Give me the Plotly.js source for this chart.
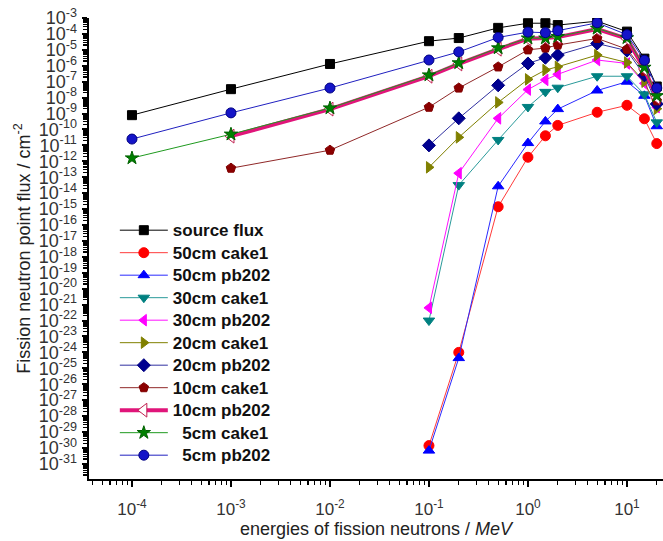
<!DOCTYPE html>
<html>
<head>
<meta charset="utf-8">
<script src="https://cdn.plot.ly/plotly-3.0.1.min.js"></script>
<style>
  html, body { margin: 0; padding: 0; background: #fff; }
  #chart { width: 663px; height: 541px; }
</style>
</head>
<body>
<div id="chart"></div>
<script>
// Neutron energies (MeV)
const energies = [1e-4, 1e-3, 1e-2, 0.1, 0.2, 0.5, 1, 1.5, 2, 5, 10, 15, 20];

// Fission neutron point flux (cm^-2)
const sourceFlux  = [7.9e-10, 3.4e-8, 1.3e-6, 3.5e-5, 5.5e-5, 2.4e-4, 4.7e-4, 4.7e-4, 3.6e-4, 6.3e-4, 1.4e-4, 2.8e-6, 5.0e-8];
const cake1_50cm  = [null, null, null, 1.4e-30, 1.0e-24, 1.4e-15, 1.8e-12, 4.0e-11, 1.8e-10, 1.2e-9, 3.3e-9, 4.7e-10, 1.3e-11];
const pb202_50cm  = [null, null, null, 6.8e-31, 4.4e-25, 2.7e-14, 1.4e-11, 3.2e-10, 1.9e-9, 2.8e-8, 1.0e-7, 1.3e-8, 1.6e-10];
const cake1_30cm  = [null, null, null, 1.0e-22, 3.2e-14, 2.2e-11, 2.6e-9, 2.3e-8, 4.2e-8, 2.2e-7, 2.2e-7, 1.6e-8, 2.8e-10];
const pb202_30cm  = [null, null, null, 6.3e-22, 1.8e-13, 5.0e-10, 3.2e-8, 1.3e-7, 2.9e-7, 2.3e-6, 1.4e-6, 7.9e-8, 2.5e-9];
const cake1_20cm  = [null, null, null, 4.2e-13, 3.2e-11, 5.0e-9, 1.4e-7, 5.4e-7, 8.7e-7, 4.7e-6, 1.6e-6, 1.0e-7, 2.0e-9];
const pb202_20cm  = [null, null, null, 1.0e-11, 5.0e-10, 5.9e-8, 1.4e-6, 3.2e-6, 4.7e-6, 2.5e-5, 8.9e-6, 2.5e-7, 4.0e-9];
const cake1_10cm  = [null, 3.7e-13, 5.0e-12, 2.5e-9, 4.0e-8, 8.5e-7, 1.0e-5, 1.3e-5, 2.0e-5, 5.2e-5, 1.1e-5, 4.5e-7, 6.3e-9];
const pb202_10cm  = [null, 3.8e-11, 1.9e-9, 2.2e-7, 1.3e-6, 1.1e-5, 5.0e-5, 5.6e-5, 6.3e-5, 2.0e-4, 5.0e-5, 6.3e-7, 1.0e-8];
const cake1_5cm   = [1.6e-12, 5.0e-11, 2.2e-9, 2.6e-7, 1.5e-6, 1.3e-5, 5.4e-5, 5.4e-5, 6.8e-5, 2.2e-4, 5.6e-5, 7.9e-7, 1.3e-8];
const pb202_5cm   = [2.5e-11, 1.1e-9, 4.0e-8, 2.3e-6, 7.4e-6, 6.0e-5, 1.3e-4, 1.2e-4, 1.6e-4, 5.0e-4, 8.9e-5, 2.2e-6, 4.0e-8];

const seriesNames = ['source flux', '50cm cake1', '50cm pb202', '30cm cake1', '30cm pb202',
  '20cm cake1', '20cm pb202', '10cm cake1', '10cm pb202', '\u20075cm cake1', '\u20075cm pb202'];
const seriesValues = [sourceFlux, cake1_50cm, pb202_50cm, cake1_30cm, pb202_30cm,
  cake1_20cm, pb202_20cm, cake1_10cm, pb202_10cm, cake1_5cm, pb202_5cm];

// Tick labels
const xTickExponents = [-4, -3, -2, -1, 0, 1];
const yTickExponents = [-3, -4, -5, -6, -7, -8, -9, -10, -11, -12, -13, -14, -15, -16, -17,
  -18, -19, -20, -21, -22, -23, -24, -25, -26, -27, -28, -29, -30, -31];

const styles = [
  {line: '#000000', lw: 1, sym: 'square',         mc: '#000000', ml: '#000000', size: 9},
  {line: '#ff3a3a', lw: 1, sym: 'circle',         mc: '#ff0000', ml: '#ff0000', size: 10},
  {line: '#2a2aff', lw: 1, sym: 'triangle-up',    mc: '#0000ff', ml: '#0000ff', size: 10},
  {line: '#2a9a9a', lw: 1, sym: 'triangle-down',  mc: '#008080', ml: '#008080', size: 10},
  {line: '#ff10ff', lw: 1, sym: 'triangle-left',  mc: '#ff00ff', ml: '#ff00ff', size: 10},
  {line: '#808000', lw: 1, sym: 'triangle-right', mc: '#808000', ml: '#808000', size: 10},
  {line: '#3030a0', lw: 1, sym: 'diamond',        mc: '#000090', ml: '#000080', size: 10},
  {line: '#902828', lw: 1, sym: 'pentagon',       mc: '#8b0000', ml: '#800000', size: 10},
  {line: '#e0157a', lw: 4, sym: 'triangle-left',  mc: '#ffffff', ml: '#c02050', size: 12},
  {line: '#1f9a1f', lw: 1, sym: 'star',           mc: '#008000', ml: '#006000', size: 10},
  {line: '#2020c0', lw: 1, sym: 'circle',         mc: '#1414c8', ml: '#000080', size: 10}
];

const traces = seriesNames.map((name, i) => ({
  type: 'scatter',
  mode: 'lines+markers',
  name: '<span style="font-size:17px">' + name + '</span>',
  x: energies,
  y: seriesValues[i],
  connectgaps: false,
  line: {color: styles[i].line, width: styles[i].lw},
  marker: {symbol: styles[i].sym, color: styles[i].mc, size: styles[i].size,
           line: {color: styles[i].ml, width: 1}}
}));

const layout = {
  width: 663,
  height: 541,
  margin: {l: 89, r: 0, t: 18, b: 62},
  paper_bgcolor: '#ffffff',
  plot_bgcolor: '#ffffff',
  font: {family: 'Arial, "Liberation Sans", sans-serif', color: '#222'},
  showlegend: true,
  legend: {
    x: 0.045, y: 0.575, xanchor: 'left', yanchor: 'top',
    bgcolor: 'rgba(0,0,0,0)',
    font: {size: 15, color: '#111', weight: 'bold'},
    itemwidth: 48,
    tracegroupgap: 0
  },
  xaxis: {
    type: 'log',
    range: [-4.434, 1.364],
    tickmode: 'array',
    tickvals: xTickExponents.map(e => Math.pow(10, e)),
    ticktext: xTickExponents.map(e => '10<sup>' + e + '</sup>'),
    showgrid: false,
    zeroline: false,
    showline: true,
    linecolor: '#000',
    linewidth: 2,
    ticks: 'outside',
    ticklen: 6,
    tickwidth: 1.5,
    tickcolor: '#000',
    ticklabelstandoff: 8,
    tickfont: {size: 17, color: '#333'},
    minor: {ticks: 'outside', ticklen: 4, tickwidth: 1.2, tickcolor: '#000', dtick: 'D1', showgrid: false},
    title: {text: 'energies of fission neutrons / <i>MeV</i>', font: {size: 18, color: '#222'}, standoff: 4}
  },
  yaxis: {
    type: 'log',
    range: [-31.95, -3],
    tickmode: 'array',
    tickvals: yTickExponents.map(e => Math.pow(10, e)),
    ticktext: yTickExponents.map(e => '10<sup>' + e + '</sup>'),
    showgrid: false,
    zeroline: false,
    showline: true,
    linecolor: '#000',
    linewidth: 2.5,
    ticks: 'outside',
    ticklen: 5,
    tickwidth: 2,
    tickcolor: '#000',
    ticklabelstandoff: 1,
    tickfont: {size: 18, color: '#333'},
    minor: {ticks: 'outside', ticklen: 4, tickwidth: 1.2, tickcolor: '#000', dtick: 'D1', showgrid: false},
    title: {text: 'Fission neutron point flux / cm<sup>-2</sup>', font: {size: 18, color: '#222'}, standoff: 4}
  }
};

Plotly.newPlot('chart', traces, layout, {displayModeBar: false, staticPlot: true});
</script>
</body>
</html>
